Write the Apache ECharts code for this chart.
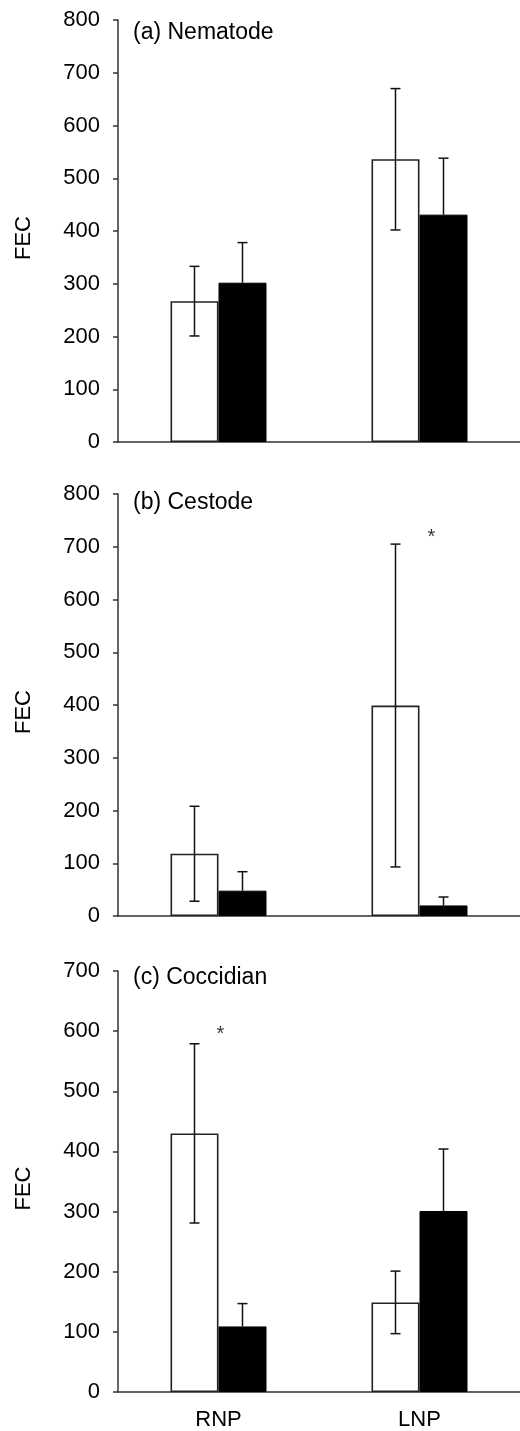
<!DOCTYPE html>
<html><head><meta charset="utf-8">
<script src="https://cdn.jsdelivr.net/npm/echarts@6/dist/echarts.min.js"></script>
<style>html,body{margin:0;padding:0;background:#fff}#c{width:520px;height:1431px}</style>
</head><body><div id="c"></div>
<script>
// ---- data ----
const categories = ['RNP', 'LNP'];
const panelTitles = ['(a) Nematode', '(b) Cestode', '(c) Coccidian'];
const yMax = [800, 800, 700];
const yInterval = 100;
const openMean   = [[267, 536], [118, 399], [430, 149]];
const openErr    = [[66, 134],  [90, 306],  [149, 52]];
const filledMean = [[302, 431], [48, 20],   [109, 301]];
const filledErr  = [[76, 107],  [36, 16],   [38, 103]];
const stars = [[], [[1, 725]], [[0, 601]]];
const starOffsetX = [0, 12, 2];

// ---- layout / style ----
const FONT = "'Liberation Sans', Arial, sans-serif";
const gridTops = [20, 494, 971];
const gridH = 422;
const BW = 48;
const AX = '#333';

const chart = echarts.init(document.getElementById('c'), null, {renderer: 'canvas'});

const grids = [], xAxes = [], yAxes = [], series = [], titles = [];
const titleTops = [21, 491, 966];

function errItems(mean, err) {
  return mean.map((m, i) => [i, m, m - err[i], m + err[i]]);
}
// upperOnly: the lower whisker of a filled bar is hidden inside the bar
function errSeries(idx, mean, err, shift, upperOnly) {
  return {
    type: 'custom', xAxisIndex: idx, yAxisIndex: idx, z: 5, silent: true,
    data: errItems(mean, err),
    encode: {x: 0, y: [1, 2, 3]},
    renderItem: function (params, api) {
      const hi = api.coord([api.value(0), api.value(3)]);
      const mid = api.coord([api.value(0), api.value(1)]);
      const lo = api.coord([api.value(0), api.value(2)]);
      const x = hi[0] + shift;
      const cap = 5;
      const st = {stroke: '#111', lineWidth: 1.5};
      const bottom = upperOnly ? mid[1] : lo[1];
      const ch = [
        {type: 'line', shape: {x1: x, y1: hi[1], x2: x, y2: bottom}, style: st},
        {type: 'line', shape: {x1: x - cap, y1: hi[1], x2: x + cap, y2: hi[1]}, style: st}
      ];
      if (!upperOnly) ch.push({type: 'line', shape: {x1: x - cap, y1: lo[1], x2: x + cap, y2: lo[1]}, style: st});
      return {type: 'group', children: ch};
    }
  };
}

for (let p = 0; p < 3; p++) {
  grids.push({left: 118, right: 0, top: gridTops[p], height: gridH, containLabel: false});
  titles.push({text: panelTitles[p], left: 133, top: titleTops[p], padding: 0,
    textStyle: {fontFamily: FONT, fontSize: 23, fontWeight: 'normal', color: '#000', lineHeight: 23}});
  xAxes.push({
    type: 'category', gridIndex: p, data: categories,
    axisLine: {show: true, lineStyle: {color: AX, width: 1.5}},
    axisTick: {show: false},
    axisLabel: {show: p === 2, fontFamily: FONT, fontSize: 22, color: '#000', margin: 17},
    splitLine: {show: false}
  });
  yAxes.push({
    type: 'value', gridIndex: p, min: 0, max: yMax[p], interval: yInterval,
    name: 'FEC', nameLocation: 'middle', nameGap: 83, nameRotate: 90,
    nameTextStyle: {fontFamily: FONT, fontSize: 22, color: '#000', padding: [0, 14, 0, 0]},
    axisLine: {show: true, lineStyle: {color: AX, width: 1.5}},
    axisTick: {show: true, inside: false, length: 5, lineStyle: {color: AX, width: 1.5}},
    axisLabel: {fontFamily: FONT, fontSize: 22, color: '#000', margin: 18},
    splitLine: {show: false}
  });
  series.push({
    type: 'bar', xAxisIndex: p, yAxisIndex: p, data: openMean[p], barWidth: BW, barGap: '0%',
    itemStyle: {color: '#fff', borderColor: '#222', borderWidth: 1.6}, z: 2, silent: true
  });
  series.push({
    type: 'bar', xAxisIndex: p, yAxisIndex: p, data: filledMean[p], barWidth: BW, barGap: '0%',
    itemStyle: {color: '#000', borderColor: '#000', borderWidth: 1}, z: 2, silent: true
  });
  series.push(errSeries(p, openMean[p], openErr[p], -BW / 2, false));
  series.push(errSeries(p, filledMean[p], filledErr[p], BW / 2, true));
  if (stars[p].length) {
    series.push({
      type: 'scatter', xAxisIndex: p, yAxisIndex: p, data: stars[p], symbolSize: 0.1,
      itemStyle: {color: 'transparent'}, z: 6, silent: true,
      label: {show: true, position: 'inside', formatter: '*', fontFamily: FONT, fontSize: 20,
        color: '#000', offset: [starOffsetX[p], 4]}
    });
  }
}

chart.setOption({
  backgroundColor: '#fff', animation: false,
  title: titles, grid: grids, xAxis: xAxes, yAxis: yAxes, series: series
});
</script></body></html>
